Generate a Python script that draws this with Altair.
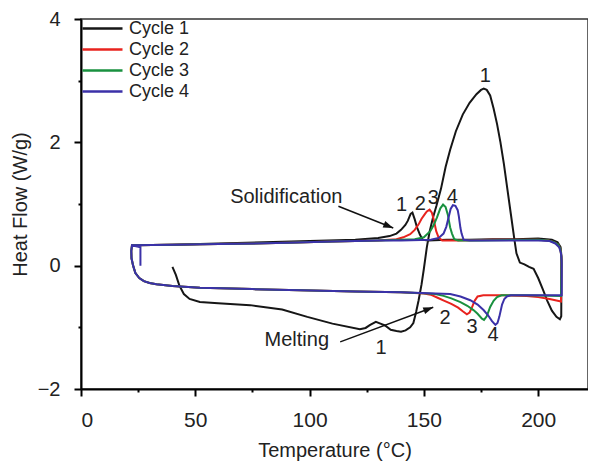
import altair as alt
import pandas as pd

# ---------------- data ----------------
cycles = ["Cycle 1", "Cycle 2", "Cycle 3", "Cycle 4"]
colors = ["#161616", "#e8231e", "#19913f", "#3b31a8"]

# Cycle 1 (black): heating from 40 C, then cooling from 210 C
c1_T = [40, 41.5, 43, 45, 47.5, 52, 60, 74, 88, 99, 110, 122, 124.5, 126.5, 129, 131, 133, 135.5, 138, 140,
        142, 144, 145.4, 146.6, 147.7, 149, 150, 151.3, 152.5, 154, 155.5, 157.5, 159.5, 161.5, 164, 167, 170,
        173, 175, 176.2, 177.5, 179, 180.5, 182, 183.5, 185, 186.5, 188, 189.5, 190.5, 192, 194, 196, 198, 200,
        202, 204, 206, 208, 209.5, 210.1,
        210.2, 209.8, 208.5, 206, 200, 190, 180, 170, 160, 152, 149.5, 148.3, 147, 146, 145, 144.2, 143, 141.9,
        140, 138, 135, 130, 120, 100, 80, 60, 40, 22]
c1_HF = [-0.02, -0.15, -0.32, -0.46, -0.54, -0.59, -0.61, -0.64, -0.71, -0.83, -0.94, -1.03, -1.01, -0.96, -0.91,
         -0.94, -0.97, -1.04, -1.06, -1.07,
         -1.05, -1.0, -0.93, -0.75, -0.56, -0.3, -0.05, 0.3, 0.55, 0.78, 0.97, 1.25, 1.6, 1.88, 2.18, 2.45, 2.64,
         2.78, 2.85, 2.87, 2.85, 2.76, 2.55, 2.3, 2.0, 1.65, 1.25, 0.85, 0.45, 0.2, 0.05, 0.02, -0.02, -0.05, -0.2,
         -0.38, -0.57, -0.73, -0.83, -0.87, -0.82,
         0.15, 0.3, 0.38, 0.42, 0.44, 0.43, 0.43, 0.42, 0.42, 0.41, 0.42, 0.5, 0.62, 0.75, 0.86, 0.84, 0.73, 0.66,
         0.58, 0.52, 0.48, 0.45, 0.42, 0.40, 0.38, 0.36, 0.34, 0.33]

# Cycle 2 (red)
c2_T = [22.3, 22.0, 22.1, 22.8, 23.8, 25.5, 27.5, 30, 33, 40, 52, 75, 96, 120, 140, 150, 153, 156, 159, 162, 165,
        167, 168.8, 170, 171, 172.2, 173.5, 176, 185, 195, 200, 205, 210,
        210.2, 209.8, 208.8, 207, 204.5, 200, 180, 165, 158, 156.5, 155.4, 154.3, 153.5, 152.5, 151.3, 150.5, 149,
        147.7, 146, 144, 141, 138, 130, 110, 90, 60, 40, 22.3]
c2_HF = [0.33, 0.24, 0.12, 0.0, -0.12, -0.2, -0.25, -0.28, -0.30, -0.33, -0.36, -0.38, -0.40, -0.42, -0.43, -0.45,
         -0.47, -0.52, -0.57, -0.62, -0.68, -0.74, -0.79, -0.76, -0.68, -0.57, -0.5, -0.48, -0.48, -0.49, -0.51,
         -0.54, -0.58,
         0.1, 0.26, 0.34, 0.38, 0.41, 0.42, 0.42, 0.41, 0.41, 0.45, 0.56, 0.75, 0.86, 0.91, 0.88, 0.84, 0.76, 0.67,
         0.58, 0.51, 0.46, 0.43, 0.41, 0.39, 0.37, 0.35, 0.34, 0.33]

# Cycle 3 (green)
c3_T = [22.3, 22.0, 22.1, 22.8, 23.8, 25.5, 27.5, 30, 33, 40, 52, 75, 96, 120, 140, 152, 155, 158.6, 162, 166, 169,
        171.7, 173.5, 175.4, 176.3, 177.5, 179, 180.5, 182, 184, 195, 210,
        210.2, 209.8, 208.8, 207, 204.5, 200, 175, 165, 163.3, 162.3, 161.5, 160.5, 159.5, 158.4, 157.2, 155.7,
        154.2, 152.8, 150, 146, 140, 130, 110, 90, 60, 40, 22.3]
c3_HF = [0.33, 0.24, 0.12, 0.0, -0.12, -0.2, -0.25, -0.28, -0.30, -0.33, -0.36, -0.38, -0.40, -0.42, -0.43, -0.45,
         -0.46, -0.49, -0.53, -0.59, -0.65, -0.72, -0.78, -0.86, -0.88, -0.82, -0.67, -0.57, -0.51, -0.48, -0.48,
         -0.49,
         0.1, 0.26, 0.34, 0.38, 0.41, 0.42, 0.41, 0.41, 0.43, 0.52, 0.62, 0.82, 0.95, 0.99, 0.93, 0.78, 0.65, 0.56,
         0.46, 0.43, 0.42, 0.41, 0.39, 0.37, 0.35, 0.34, 0.33]

# Cycle 4 (blue)
c4_T = [26, 26, 22.3, 22.0, 22.1, 22.8, 23.8, 25.5, 27.5, 30, 33, 40, 52, 75, 96, 120, 140, 155, 161.5, 166, 170.3,
        173.5, 176.1, 178, 179.8, 181.3, 182.2, 183, 184.2, 185.2, 186.3, 188, 200, 210.3,
        210.3, 210, 209.2, 207.5, 205, 200, 180, 170, 167.4, 166.5, 166, 165.3, 164.8, 163.8, 162.7, 161.7, 160.8,
        159.8, 158.6, 156.5, 153, 140, 130, 110, 90, 60, 40, 22.3]
c4_HF = [0.0, 0.30, 0.33, 0.24, 0.12, 0.0, -0.12, -0.2, -0.25, -0.28, -0.30, -0.33, -0.36, -0.38, -0.40, -0.42,
         -0.43, -0.45, -0.46, -0.5, -0.56, -0.63, -0.72, -0.8, -0.9, -0.96, -0.93, -0.83, -0.63, -0.54, -0.5, -0.48,
         -0.48, -0.48,
         0.05, 0.2, 0.3, 0.36, 0.40, 0.41, 0.41, 0.41, 0.42, 0.52, 0.61, 0.8, 0.9, 0.97, 0.98, 0.92, 0.78, 0.63,
         0.52, 0.45, 0.42, 0.41, 0.41, 0.39, 0.37, 0.35, 0.34, 0.33]

x_ticks = [0, 25, 50, 75, 100, 125, 150, 175, 200]
y_ticks = [-2, -1, 0, 1, 2, 3, 4]

# annotations (data coordinates)
ann_text = ["Solidification", "Melting", "1", "2", "3", "4", "1", "1", "2", "3", "4"]
ann_T = [89.8, 94.4, 140.2, 148.4, 154.1, 162.4, 176.9, 131.3, 159.3, 171.1, 180.3]
ann_HF = [1.11, -1.20, 0.98, 0.995, 1.09, 1.12, 3.08, -1.33, -0.85, -0.995, -1.12]

arrow_id = ["sol", "sol", "melt", "melt"]
arrow_T = [112.6, 136.6, 113.4, 154.1]
arrow_HF = [0.963, 0.61, -1.236, -0.674]
arrow_angle = {"sol": 21.8, "melt": 339.4}

# ---------------- build tables ----------------
rows = []
for name, T, HF in zip(cycles, [c1_T, c2_T, c3_T, c4_T], [c1_HF, c2_HF, c3_HF, c4_HF]):
    for i, (t, h) in enumerate(zip(T, HF)):
        rows.append({"cycle": name, "T": t, "HF": h, "i": i})
df = pd.DataFrame(rows)

ann_df = pd.DataFrame({"text": ann_text, "T": ann_T, "HF": ann_HF})
arr_df = pd.DataFrame({"id": arrow_id, "T": arrow_T, "HF": arrow_HF, "i": [0, 1, 0, 1]})
head_df = arr_df[arr_df["i"] == 1].copy()
head_df["angle"] = head_df["id"].map(arrow_angle)

FONT = "Liberation Sans"

xscale = alt.Scale(domain=[0, 221.8], nice=False, zero=False)
yscale = alt.Scale(domain=[-2, 4], nice=False, zero=False)

x_axis = alt.Axis(
    values=x_ticks,
    format="d",
    labelExpr="datum.value % 50 === 0 ? datum.label : ''",
    tickSize={"condition": {"test": "datum.value % 50 === 0", "value": 7}, "value": 3},
    labelPadding=13,
    titlePadding=10,
    title="Temperature (°C)",
)
y_axis = alt.Axis(
    values=y_ticks,
    format="d",
    labelExpr="datum.value % 2 === 0 ? datum.label : ''",
    tickSize={"condition": {"test": "datum.value % 2 === 0", "value": 7}, "value": 3},
    labelPadding=14,
    labelFontSize=20,
    titlePadding=7,
    title="Heat Flow (W/g)",
)

lines = alt.Chart(df).mark_line(strokeWidth=2).encode(
    x=alt.X("T:Q", scale=xscale, axis=x_axis),
    y=alt.Y("HF:Q", scale=yscale, axis=y_axis),
    color=alt.Color(
        "cycle:N",
        scale=alt.Scale(domain=cycles, range=colors),
        legend=alt.Legend(
            title=None, orient="none", legendX=0, legendY=-1,
            symbolType="stroke", symbolSize=1600, symbolStrokeWidth=2.5,
            labelFont=FONT, labelFontSize=18, labelColor="#222", labelOffset=5,
            rowPadding=0, clipHeight=21, padding=0,
        ),
    ),
    order="i:Q",
)

texts = alt.Chart(ann_df).mark_text(
    font=FONT, fontSize=20, color="#222", align="center", baseline="middle"
).encode(x="T:Q", y="HF:Q", text="text:N")

arrows = alt.Chart(arr_df).mark_line(color="#111", strokeWidth=1.5).encode(
    x="T:Q", y="HF:Q", detail="id:N", order="i:Q"
)

heads = alt.Chart(head_df).mark_point(
    shape="M0,0L-2,-0.7L-2,0.7Z", filled=True, size=100, color="#111", opacity=1
).encode(x="T:Q", y="HF:Q", angle=alt.Angle("angle:Q", scale=None))

chart = alt.layer(lines, arrows, heads, texts).properties(
    width=507, height=370,
    autosize=alt.AutoSizeParams(type="none"),
    padding={"left": 73, "top": 11, "right": 0, "bottom": 75},
).configure_view(
    stroke="#333", strokeWidth=1.5
).configure_axis(
    grid=False, domainColor="black", domainWidth=2, tickColor="black", tickWidth=2,
    labelFont=FONT, labelFontSize=21, labelColor="#222",
    titleFont=FONT, titleFontSize=20, titleFontWeight="normal", titleColor="#222",
)

chart.save("out.html", embed_options={"renderer": "svg", "actions": False})
